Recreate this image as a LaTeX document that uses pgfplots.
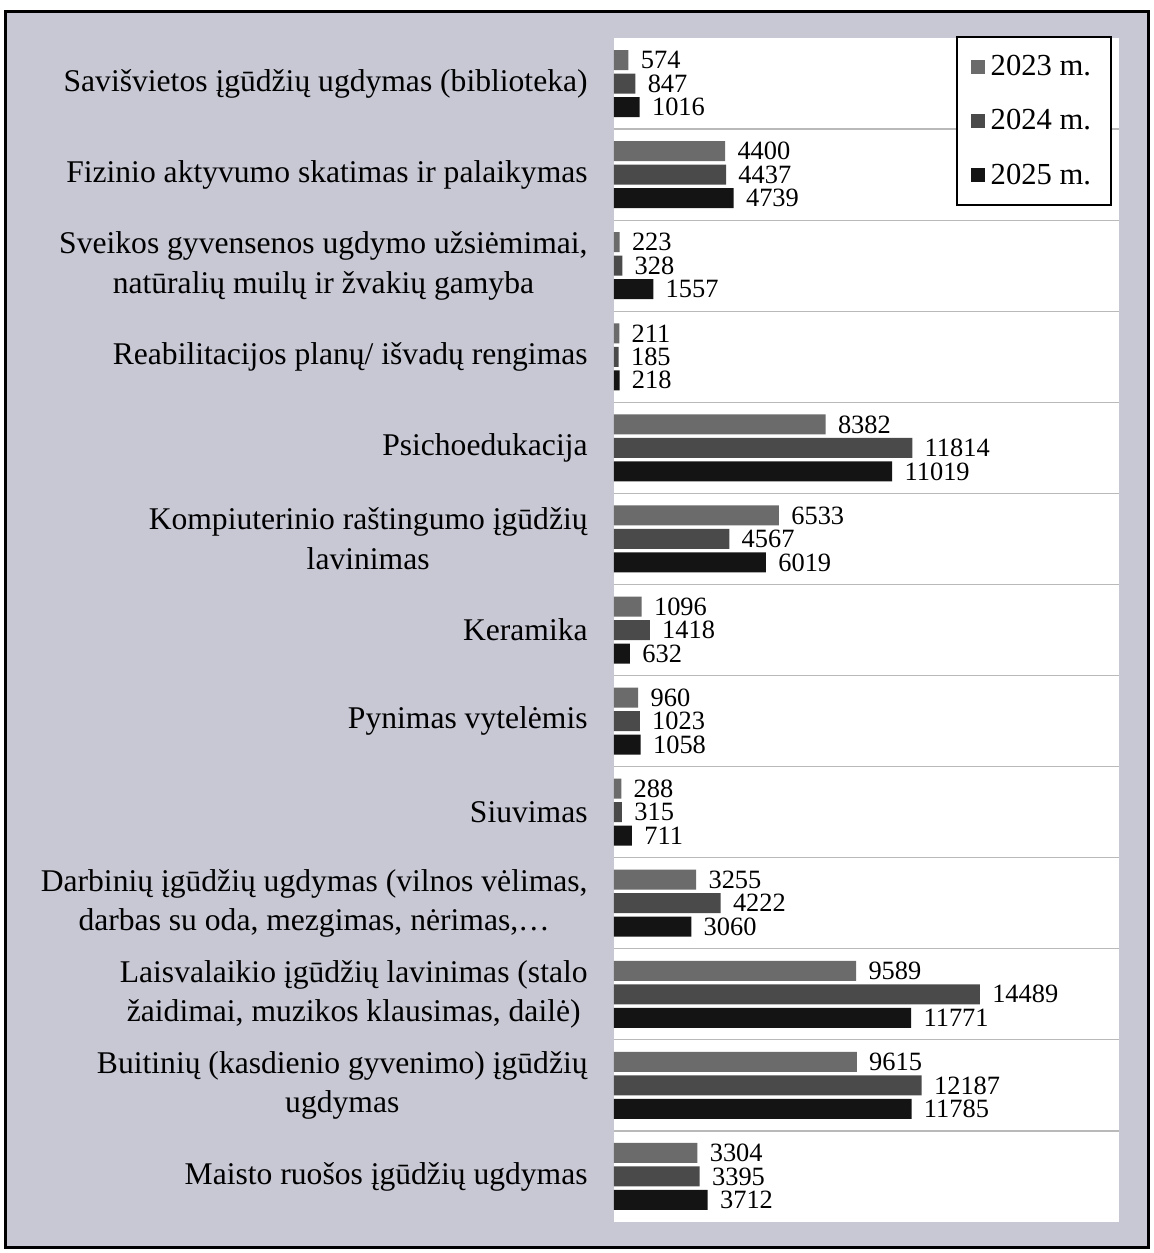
\documentclass[border=0pt]{standalone}
\usepackage{pgfplots}
\pgfplotsset{compat=1.18}
\usepackage{pgfplotstable}
\usepackage{fontspec}
\setmainfont{Liberation Serif}
\definecolor{bgl}{HTML}{C8C8D5}
\definecolor{cA}{HTML}{6B6B6B}
\definecolor{cB}{HTML}{4A4A4A}
\definecolor{cC}{HTML}{141414}

\pgfplotstableread{
idx v23 v24 v25
0 574 847 1016
1 4400 4437 4739
2 223 328 1557
3 211 185 218
4 8382 11814 11019
5 6533 4567 6019
6 1096 1418 632
7 960 1023 1058
8 288 315 711
9 3255 4222 3060
10 9589 14489 11771
11 9615 12187 11785
12 3304 3395 3712
}\datatable

\begin{document}
\begin{tikzpicture}
\fill[white] (0,0) rectangle (576.5pt,626.5pt);
\draw[line width=1.5pt, fill=bgl] (2.5pt,2.5pt) rectangle (574pt,620.5pt);
\begin{axis}[
  at={(307pt,15.5pt)}, anchor=south west,
  scale only axis, width=252.5pt, height=592pt,
  xbar, bar width=10pt,
  xmin=0, xmax=20000,
  ymin=-0.5, ymax=12.5, y dir=reverse,
  axis background/.style={fill=white},
  axis line style={draw=none},
  xtick=\empty,
  ytick={0,...,12},
  yticklabels={
    {Savišvietos įgūdžių ugdymas (biblioteka)},
    {Fizinio aktyvumo skatimas ir palaikymas},
    {Sveikos gyvensenos ugdymo užsiėmimai,\\natūralių muilų ir žvakių gamyba},
    {Reabilitacijos planų/ išvadų rengimas},
    {Psichoedukacija},
    {Kompiuterinio raštingumo įgūdžių\\lavinimas},
    {Keramika},
    {Pynimas vytelėmis},
    {Siuvimas},
    {Darbinių įgūdžių ugdymas (vilnos vėlimas,\\darbas su oda, mezgimas, nėrimas,…},
    {Laisvalaikio įgūdžių lavinimas (stalo\\žaidimai, muzikos klausimas, dailė)},
    {Buitinių (kasdienio gyvenimo) įgūdžių\\ugdymas},
    {Maisto ruošos įgūdžių ugdymas}},
  minor ytick={0.5,1.5,...,11.5},
  yminorgrids,
  minor grid style={gray!55, line width=0.6pt},
  major tick length=0pt, minor tick length=0pt,
  ytick style={draw=none},
  yticklabel style={align=center, font=\fontsize{15.8}{19.8}\selectfont, inner sep=0pt, xshift=-13pt},
  point meta=x,
  nodes near coords,
  nodes near coords style={font=\fontsize{13.2}{14}\selectfont, inner sep=0pt, xshift=6pt, anchor=west},
  /pgf/number format/assume math mode=true,
  /pgf/number format/1000 sep={},
  legend cell align=left,
  legend style={at={(axis description cs:1,1)}, anchor=north east, xshift=-3.5pt, yshift=1pt,
    draw=black, line width=1pt, fill=white, font=\fontsize{15.3}{18}\selectfont,
    row sep=12.5pt, inner xsep=7pt, inner ysep=7.5pt, nodes={inner ysep=1.5pt, inner xsep=3pt}},
  legend image code/.code={\fill[#1] (0pt,-3.5pt) rectangle (7pt,3.5pt);},
]
\addplot[fill=cA, draw=none, bar shift=0pt] table[x=v23, y expr=\thisrow{idx}-0.258] {\datatable};
\addlegendentry{2023 m.}
\addplot[fill=cB, draw=none, bar shift=0pt] table[x=v24, y expr=\thisrow{idx}] {\datatable};
\addlegendentry{2024 m.}
\addplot[fill=cC, draw=none, bar shift=0pt] table[x=v25, y expr=\thisrow{idx}+0.258] {\datatable};
\addlegendentry{2025 m.}
\end{axis}
\end{tikzpicture}
\end{document}
